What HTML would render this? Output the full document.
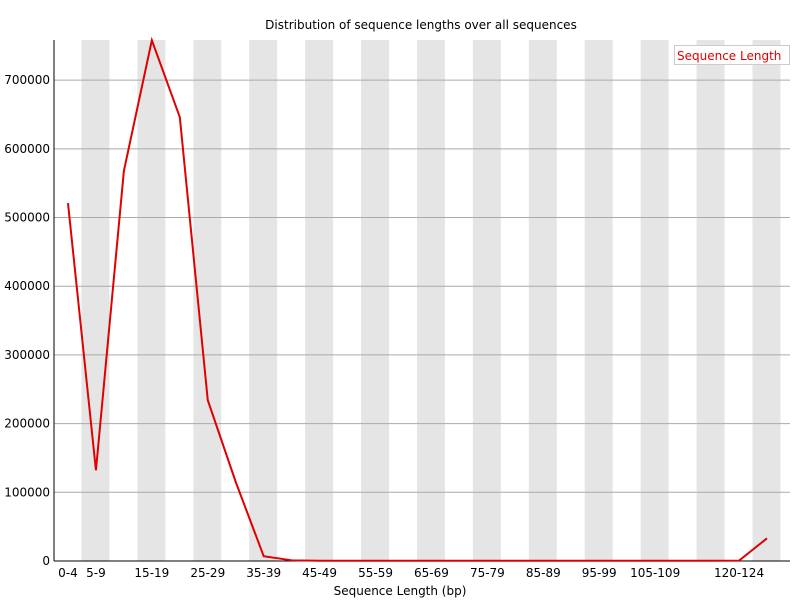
<!DOCTYPE html>
<html><head><meta charset="utf-8"><style>
body{margin:0;background:#fff;font-family:"DejaVu Sans","Liberation Sans",sans-serif;}
svg text{font-family:"DejaVu Sans","Liberation Sans",sans-serif;font-size:12px;fill:#000;}
</style></head><body>
<svg id="chart" width="800" height="600"></svg>
<script>
const categories=["0-4","5-9","10-14","15-19","20-24","25-29","30-34","35-39","40-44","45-49","50-54","55-59","60-64","65-69","70-74","75-79","80-84","85-89","90-94","95-99","100-104","105-109","110-114","115-119","120-124","125-129"];
const counts=[521000,132000,568000,758000,646000,234000,115000,7000,1000,300,300,300,300,300,300,300,300,300,300,300,300,300,300,300,500,33000];
const shownLabels=["0-4","5-9","15-19","25-29","35-39","45-49","55-59","65-69","75-79","85-89","95-99","105-109","120-124"];
const yTicks=[0,100000,200000,300000,400000,500000,600000,700000];
const NS="http://www.w3.org/2000/svg";
const svg=document.getElementById('chart');
const L=54,R=790,T=40,B=561,yMax=758400;
const bw=27.96;
const xs=i=>L+bw*(i+0.5);
const ys=v=>B-(v/yMax)*(B-T);
function mk(t,a){const e=document.createElementNS(NS,t);for(const k in a)e.setAttribute(k,a[k]);svg.appendChild(e);return e;}
categories.forEach((c,i)=>{if(i%2===1){const r=mk('rect',{x:L+bw*i-0.5,y:T,width:bw,height:B-T,fill:'#e5e5e5'});

}});
yTicks.forEach(v=>{const g=mk('line',{x1:L,x2:R,y1:ys(v),y2:ys(v),stroke:'#aaa','stroke-width':1});


const t=mk('text',{x:L-4,y:ys(v)+4,'text-anchor':'end'});t.textContent=String(v);

});
const ax=mk('line',{x1:L,x2:L,y1:T,y2:B,stroke:'#000'});


const bx=mk('line',{x1:L,x2:R,y1:B,y2:B,stroke:'#000'});


categories.forEach((c,i)=>{if(shownLabels.includes(c)){const t=mk('text',{x:xs(i),y:B+16,'text-anchor':'middle'});t.textContent=c;

}});
const pts=counts.map((v,i)=>xs(i)+','+ys(v)).join(' ');
const line=mk('polyline',{points:pts,fill:'none',stroke:'#e00000','stroke-width':2,'stroke-linejoin':'miter'});


const title=mk('text',{x:421,y:29,'text-anchor':'middle','font-size':'12.5'});title.textContent='Distribution of sequence lengths over all sequences';


const xt=mk('text',{x:400,y:595,'text-anchor':'middle'});xt.textContent='Sequence Length (bp)';


const lb=mk('rect',{x:674.5,y:45.5,width:115,height:19,fill:'#fff',stroke:'#ccc'});


const lt=mk('text',{x:677,y:60});lt.textContent='Sequence Length';lt.style.fill='#e00000';


</script>
</body></html>
